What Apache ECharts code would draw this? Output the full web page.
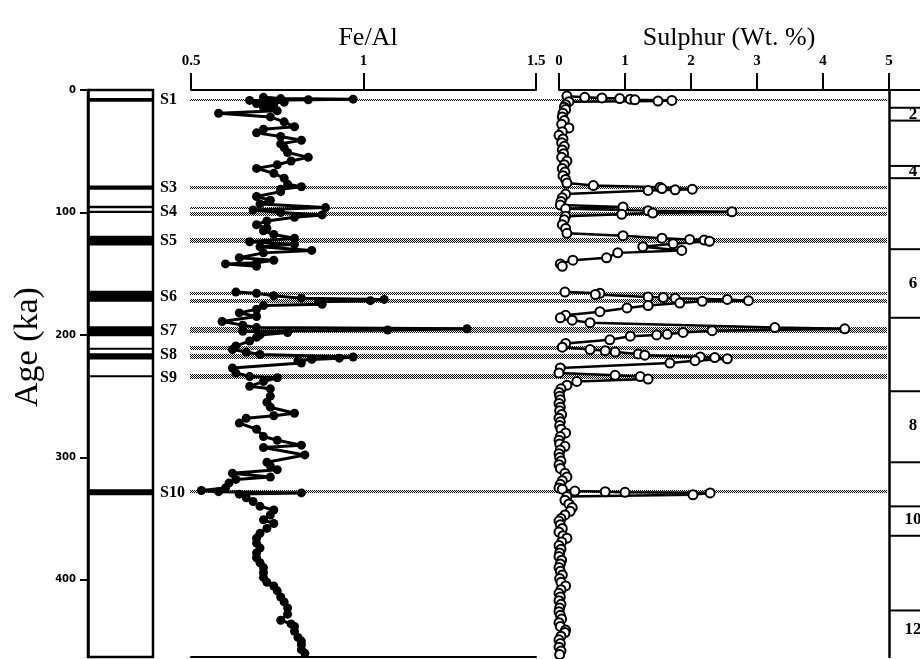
<!DOCTYPE html>
<html lang="en">
<head>
<meta charset="UTF-8">
<title>Fe/Al and Sulphur vs Age</title>
<script src="https://cdn.jsdelivr.net/npm/echarts@6/dist/echarts.min.js"></script>
<style>
  html, body { margin: 0; padding: 0; background: #fff; }
  #main { width: 920px; height: 659px; }
</style>
</head>
<body>
<div id="main"></div>
<script>
var chart = echarts.init(document.getElementById('main'));

// age axis (ka), runs downwards
var ageMax = 463;
var ageTicks = [0, 100, 200, 300, 400];

// Fe/Al record (null = gap in the record)
var feAge = [6, 7, 7.5, 8, 8.5, 9, 10, 11, 12, 14, 17, 19, 22, 26, 30, 32, 35, 38, 41, 44, 47, 51, 55, 58, 61, 64, 68, 72, 77, 79, 81, 83, 87, 90, 93, 96, 98, 100, 102, 104, 107, 110, 113, 115, 118, 121, 124, 126, 128, 131, 133, 137, 139, 141, 142, 144,
  155,
  165, 166, 168, 170, 171, 172, 173, 175, 176, 179, 182, 185, 189, 192, 194, 195, 196, 197, 198, 200, 202, 205, 209, 212, 214, 216, 218, 219, 220, 221, 223, 227, 231, 234, 235, 238, 242, 244, 250, 255, 259, 264, 266, 268, 272, 277, 283, 286, 290, 292, 298, 304, 307, 310, 313, 316, 318, 321, 325, 327, 328, 329, 330, 333, 336, 340, 343, 347, 351, 354, 358, 362, 366, 370, 374, 378, 382, 386, 390, 394, 398, 402, 405, 409, 414, 418, 423, 428, 433, 436, 438, 442, 447, 450, 453, 457, 460];
var feVal = [0.71, 0.76, 0.97, 0.84, 0.67, 0.73, 0.77, 0.69, 0.74, 0.71, 0.75, 0.58, 0.73, 0.77, 0.80, 0.71, 0.69, 0.76, 0.82, 0.76, 0.77, 0.78, 0.84, 0.79, 0.75, 0.69, 0.74, 0.77, 0.78, 0.82, 0.76, 0.76, 0.69, 0.73, 0.70, 0.89, 0.68, 0.76, 0.88, 0.80, 0.72, 0.69, 0.72, 0.71, 0.74, 0.80, 0.67, 0.80, 0.70, 0.85, 0.71, 0.64, 0.74, 0.69, 0.60, 0.69,
  null,
  0.63, 0.69, 0.74, 0.82, 1.06, 1.02, 0.87, 0.88, 0.71, 0.69, 0.64, 0.69, 0.59, 0.65, 0.69, 1.30, 1.07, 0.65, 0.78, 0.70, 0.69, 0.67, 0.63, 0.62, 0.66, 0.70, 0.97, 0.93, 0.85, 0.81, 0.82, 0.62, 0.63, 0.67, 0.75, 0.71, 0.67, 0.73, 0.73, 0.72, 0.73, 0.80, 0.74, 0.66, 0.64, 0.69, 0.71, 0.75, 0.82, 0.71, 0.83, 0.72, 0.73, 0.75, 0.62, 0.73, 0.63, 0.61, 0.60, 0.53, 0.58, 0.82, 0.64, 0.66, 0.68, 0.70, 0.74, 0.73, 0.71, 0.74, 0.72, 0.70, 0.69, 0.69, 0.70, 0.69, 0.69, 0.70, 0.71, 0.71, 0.71, 0.72, 0.74, 0.75, 0.76, 0.77, 0.78, 0.78, 0.76, 0.79, 0.80, 0.80, 0.81, 0.82, 0.82, 0.82, 0.83];

// Sulphur (wt. %) record
var sAge = [5, 6, 6.5, 7, 7.5, 8, 8.5, 9, 9.5, 12, 14, 16, 19, 22, 25, 28, 31, 34, 37, 40, 43, 46, 49, 52, 55, 58, 61, 64, 67, 70, 73, 76, 78, 79.5, 80.5, 81, 81.5, 82, 85, 88, 91, 94, 95.5, 97, 98.5, 99.5, 100.5, 101.5, 103, 106, 110, 113, 117, 119, 121, 122, 122.5, 123.5, 125.5, 128, 131, 133, 137, 139, 142, 144,
  155,
  165, 166, 167, 169, 169.5, 170, 171, 172, 172.5, 174, 176, 178, 181, 184, 186, 188, 190, 194, 195, 196.5, 198, 199.5, 200, 201, 204, 207, 210, 212, 213, 214, 215.5, 216.5, 218, 218.5, 219.5, 221, 223, 227, 231, 233, 234, 236, 238, 241, 244, 247, 250, 253, 256, 259, 262, 265, 268, 271, 274, 277, 280, 283, 286, 289, 291, 294, 297, 300, 303, 306, 309, 313, 316, 319, 322, 325, 326, 327.5, 328, 328.5, 329, 330.5, 332, 335, 338, 341, 344, 347, 350, 352, 355, 358, 361, 364, 366, 369, 372, 375, 378, 381, 384, 387, 390, 393, 396, 399, 402, 405, 408, 411, 414, 417, 420, 423, 426, 429, 432, 435, 438, 441, 443, 446, 449, 452, 455, 458, 461];
var sVal = [0.12, 0.39, 0.65, 0.92, 1.08, 1.15, 1.71, 1.50, 0.15, 0.10, 0.08, 0.10, 0.06, 0.05, 0.08, 0.04, 0.15, 0.05, 0.00, 0.06, 0.04, 0.08, 0.05, 0.07, 0.04, 0.12, 0.08, 0.05, 0.09, 0.06, 0.10, 0.12, 0.52, 1.53, 1.56, 2.02, 1.76, 1.35, 0.10, 0.05, 0.03, 0.02, 0.97, 0.10, 1.35, 2.62, 1.42, 0.95, 0.10, 0.08, 0.05, 0.10, 0.12, 0.97, 1.56, 1.98, 2.20, 2.28, 1.73, 1.27, 1.86, 0.89, 0.72, 0.21, 0.02, 0.05,
  null,
  0.09, 0.62, 0.55, 1.35, 1.58, 1.76, 2.55, 2.87, 2.17, 1.83, 1.35, 1.03, 0.62, 0.10, 0.02, 0.20, 0.47, 3.27, 4.33, 2.32, 1.88, 1.64, 1.48, 1.08, 0.77, 0.10, 0.05, 0.47, 0.70, 0.85, 1.20, 1.30, 2.14, 2.36, 2.55, 2.06, 1.68, 0.02, 0.00, 0.85, 1.23, 1.35, 0.27, 0.12, 0.03, 0.00, 0.01, 0.02, 0.00, 0.02, 0.01, 0.04, 0.00, 0.02, 0.01, 0.03, 0.10, 0.02, 0.00, 0.01, 0.09, 0.02, 0.00, 0.01, 0.03, 0.00, 0.02, 0.09, 0.12, 0.05, 0.02, 0.00, 0.05, 0.24, 0.70, 1.00, 2.29, 2.03, 0.12, 0.09, 0.15, 0.20, 0.17, 0.09, 0.03, 0.00, 0.02, 0.05, 0.00, 0.06, 0.12, 0.04, 0.00, 0.03, 0.01, 0.00, 0.04, 0.02, 0.00, 0.02, 0.05, 0.01, 0.03, 0.10, 0.03, 0.00, 0.02, 0.00, 0.03, 0.01, 0.00, 0.02, 0.04, 0.00, 0.02, 0.10, 0.09, 0.03, 0.00, 0.02, 0.00, 0.03, 0.01];

// black sapropel bands in the lithology column
var stripTop = [6.5, 78, 94.5, 98.5, 119, 164, 193, 210.5, 215, 233, 326];
var stripBot = [9.5, 81.5, 96.5, 100.5, 127, 173, 201, 212, 220, 234.5, 331];

// stippled sapropel levels across both panels
var bandTop = [7.6, 78.3, 95.2, 99.8, 120.8, 164.8, 170.3, 193.3, 208.8, 215.8, 232.3, 326.3];
var bandBot = [8.8, 81.2, 97.5, 103.2, 125.2, 167.8, 174.2, 198.7, 212.2, 219.7, 236, 329.2];
var sapLabels = ['S1', 'S3', 'S4', 'S5', 'S6', 'S7', 'S8', 'S9', 'S10'];
var sapLabelAge = [8, 80, 99.5, 123, 169, 197, 216, 235, 329];

// marine isotope stage column
var misBounds = [14.5, 25, 62, 72, 130, 186, 246, 304, 340, 364, 425];
var misLabels = ['2', '4', '6', '8', '10', '12'];
var misLabelAge = [20, 67, 158, 274, 351, 441];

var serif = 'Liberation Serif';

function pairs(vals, ages) {
  return ages.map(function (a, i) {
    return vals[i] == null ? ['-', a] : [vals[i], a];
  });
}

// stipple pattern (checkerboard of single dots)
var pat = document.createElement('canvas');
pat.width = 2; pat.height = 2;
var pctx = pat.getContext('2d');
pctx.fillStyle = '#000';
pctx.fillRect(0, 0, 1, 1);
pctx.fillRect(1, 1, 1, 1);

function renderStrip(params, api) {
  var cs = params.coordSys;
  var y0 = api.coord([0, api.value(0)])[1];
  var y1 = api.coord([0, api.value(1)])[1];
  return { type: 'rect', shape: { x: cs.x, y: y0, width: cs.width, height: Math.max(2, y1 - y0) }, style: { fill: '#000' } };
}

function renderBand(params, api) {
  var cs = params.coordSys;
  var y0 = Math.round(api.coord([0, api.value(0)])[1]);
  var y1 = Math.round(api.coord([0, api.value(1)])[1]);
  var x0 = cs.x + 35;
  return { type: 'rect', shape: { x: x0, y: y0, width: cs.x + cs.width - 2 - x0, height: Math.max(2, y1 - y0) },
    style: { fill: { image: pat, repeat: 'repeat' } } };
}

function renderSapLabel(params, api) {
  var cs = params.coordSys;
  var y = api.coord([0, api.value(0)])[1];
  return { type: 'text', x: cs.x + 5, y: y,
    style: { text: sapLabels[params.dataIndex], font: 'bold 16px ' + serif, fill: '#000', align: 'left', verticalAlign: 'middle' } };
}

function renderMisLine(params, api) {
  var cs = params.coordSys;
  var y = api.coord([0, api.value(0)])[1];
  return { type: 'line', shape: { x1: cs.x, y1: y, x2: cs.x + cs.width, y2: y }, style: { stroke: '#000', lineWidth: 2 } };
}

function renderMisLabel(params, api) {
  var cs = params.coordSys;
  var y = api.coord([0, api.value(0)])[1];
  return { type: 'text', x: cs.x + 24, y: y,
    style: { text: misLabels[params.dataIndex], font: 'bold 17px ' + serif, fill: '#000', align: 'center', verticalAlign: 'middle' } };
}

var gridTop = 90, gridH = 567;
var hiddenX = { type: 'value', min: 0, max: 1, show: false };
var hiddenY = { type: 'value', min: 0, max: ageMax, inverse: true, show: false };

var option = {
  animation: false,
  title: [
    { text: 'Fe/Al', left: 363, top: 20, textAlign: 'center', textStyle: { fontFamily: serif, fontSize: 26, fontWeight: 'normal', color: '#000' } },
    { text: 'Sulphur (Wt. %)', left: 724, top: 20, textAlign: 'center', textStyle: { fontFamily: serif, fontSize: 26, fontWeight: 'normal', color: '#000' } }
  ],
  graphic: [
    { type: 'text', x: 28, y: 347, rotation: Math.PI / 2,
      style: { text: 'Age (ka)', font: '34px ' + serif, fill: '#000', align: 'center', verticalAlign: 'middle' } }
  ],
  grid: [
    { left: 88, top: gridTop, width: 65, height: gridH, show: true, borderColor: '#000', borderWidth: 2.5 },
    { left: 191, top: gridTop, width: 345, height: gridH },
    { left: 559, top: gridTop, width: 330, height: gridH },
    { left: 889, top: gridTop, width: 60, height: gridH },
    { left: 155, top: gridTop, width: 734, height: gridH }
  ],
  xAxis: [
    Object.assign({ gridIndex: 0 }, hiddenX),
    { gridIndex: 1, type: 'value', position: 'top', min: 0.5, max: 1.5, interval: 0.5,
      axisLine: { lineStyle: { color: '#000', width: 2 } },
      axisTick: { length: 17, lineStyle: { color: '#000', width: 2 } },
      axisLabel: { margin: 21, color: '#000', fontFamily: serif, fontWeight: 'bold', fontSize: 15,
        formatter: function (v) { return String(v); } },
      splitLine: { show: false } },
    { gridIndex: 1, type: 'value', position: 'bottom', min: 0.5, max: 1.5,
      axisLine: { lineStyle: { color: '#000', width: 2 } },
      axisTick: { show: false }, axisLabel: { show: false }, splitLine: { show: false } },
    { gridIndex: 2, type: 'value', position: 'top', min: 0, max: 5, interval: 1,
      axisLine: { lineStyle: { color: '#000', width: 2 } },
      axisTick: { length: 17, lineStyle: { color: '#000', width: 2 } },
      axisLabel: { margin: 21, color: '#000', fontFamily: serif, fontWeight: 'bold', fontSize: 15 },
      splitLine: { show: false } },
    { gridIndex: 3, type: 'value', position: 'top', min: 0, max: 1,
      axisLine: { lineStyle: { color: '#000', width: 2 } },
      axisTick: { show: false }, axisLabel: { show: false }, splitLine: { show: false } },
    Object.assign({ gridIndex: 4 }, hiddenX)
  ],
  yAxis: [
    { gridIndex: 0, type: 'value', min: 0, max: ageMax, inverse: true,
      axisLine: { lineStyle: { color: '#000', width: 2.5 } },
      axisTick: { length: 8, customValues: ageTicks, lineStyle: { color: '#000', width: 2 } },
      axisLabel: { margin: 12, customValues: ageTicks, color: '#000', fontFamily: 'DejaVu Sans', fontWeight: 'bold', fontSize: 10 },
      splitLine: { show: false } },
    Object.assign({ gridIndex: 1 }, hiddenY),
    Object.assign({ gridIndex: 2 }, hiddenY),
    { gridIndex: 3, type: 'value', min: 0, max: ageMax, inverse: true,
      axisLine: { lineStyle: { color: '#000', width: 2.5 } },
      axisTick: { show: false }, axisLabel: { show: false }, splitLine: { show: false } },
    Object.assign({ gridIndex: 4 }, hiddenY)
  ],
  series: [
    { type: 'custom', xAxisIndex: 0, yAxisIndex: 0, renderItem: renderStrip, encode: { y: [0, 1] }, z: 2,
      data: stripTop.map(function (t, i) { return [t, stripBot[i]]; }) },
    { type: 'custom', xAxisIndex: 5, yAxisIndex: 4, renderItem: renderBand, encode: { y: [0, 1] }, z: 1,
      data: bandTop.map(function (t, i) { return [t, bandBot[i]]; }) },
    { type: 'custom', xAxisIndex: 5, yAxisIndex: 4, renderItem: renderSapLabel, encode: { y: 0 }, z: 2,
      data: sapLabelAge.map(function (a) { return [a]; }) },
    { type: 'custom', xAxisIndex: 4, yAxisIndex: 3, renderItem: renderMisLine, encode: { y: 0 }, z: 2,
      data: misBounds.map(function (a) { return [a]; }) },
    { type: 'custom', xAxisIndex: 4, yAxisIndex: 3, renderItem: renderMisLabel, encode: { y: 0 }, z: 2,
      data: misLabelAge.map(function (a) { return [a]; }) },
    { name: 'Fe/Al', type: 'line', xAxisIndex: 1, yAxisIndex: 1, z: 5,
      data: pairs(feVal, feAge), symbol: 'circle', symbolSize: 9, showAllSymbol: true,
      lineStyle: { color: '#000', width: 3 }, itemStyle: { color: '#000' } },
    { name: 'Sulphur', type: 'line', xAxisIndex: 3, yAxisIndex: 2, z: 5,
      data: pairs(sVal, sAge), symbol: 'circle', symbolSize: 9, showAllSymbol: true,
      lineStyle: { color: '#000', width: 2.5 }, itemStyle: { color: '#fff', borderColor: '#000', borderWidth: 2 } }
  ]
};

chart.setOption(option);
</script>
</body>
</html>
